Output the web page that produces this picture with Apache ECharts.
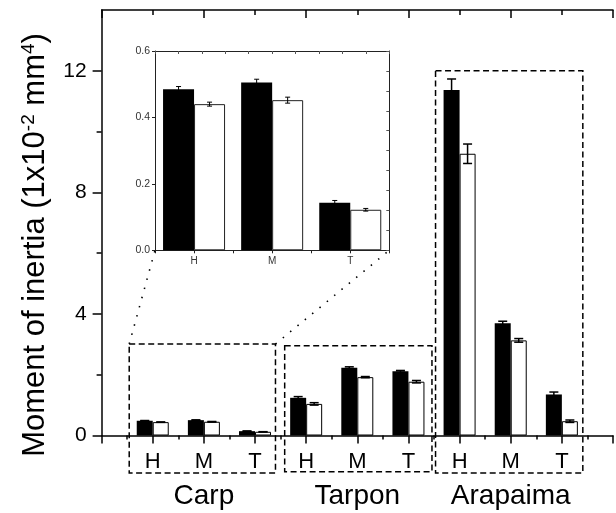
<!DOCTYPE html>
<html>
<head>
<meta charset="utf-8">
<script src="https://cdn.jsdelivr.net/npm/echarts@6/dist/echarts.min.js"></script>
<style>
html,body{margin:0;padding:0;background:#fff;}
#c{width:616px;height:513px;}
</style>
</head>
<body>
<div id="c"></div>
<script>
// ---------------- DATA ----------------
const groups = ['Carp', 'Tarpon', 'Arapaima'];
const sections = ['H', 'M', 'T'];
// order: Carp H,M,T | Tarpon H,M,T | Arapaima H,M,T   (units 1x10^-2 mm^4)
const blackVals = [0.485, 0.505, 0.143, 1.24, 2.23, 2.11, 11.37, 3.69, 1.35];
const blackErr  = [0.008, 0.010, 0.007, 0.04, 0.03, 0.03, 0.36, 0.07, 0.08];
const whiteVals = [0.440, 0.452, 0.122, 1.04, 1.92, 1.77, 9.27, 3.13, 0.47];
const whiteErr  = [0.006, 0.009, 0.004, 0.04, 0.02, 0.04, 0.32, 0.06, 0.04];
const yTicks = [0, 4, 8, 12];
const yMinorTicks = [2, 6, 10];
const insetYTicks = [0, 0.2, 0.4, 0.6];
// --------------------------------------

const FONT = 'Liberation Sans, Arial, sans-serif';
const nCat = groups.length * sections.length;
const mainPos = blackVals.map((v, i) => i + 1);
const groupCenters = groups.map((g, i) => i * sections.length + 2);

function errRender(offset, cap, lw) {
  return function (params, api) {
    const x = api.value(0), y = api.value(1), e = api.value(2);
    const top = api.coord([x, y + e]);
    const bot = api.coord([x, y - e]);
    const cx = top[0] + offset;
    const style = { stroke: '#000', lineWidth: lw };
    return {
      type: 'group',
      children: [
        { type: 'line', shape: { x1: cx, y1: top[1], x2: cx, y2: bot[1] }, style },
        { type: 'line', shape: { x1: cx - cap, y1: top[1], x2: cx + cap, y2: top[1] }, style },
        { type: 'line', shape: { x1: cx - cap, y1: bot[1], x2: cx + cap, y2: bot[1] }, style }
      ]
    };
  };
}

const chart = echarts.init(document.getElementById('c'), null, { renderer: 'canvas' });

const axisBlack = { show: true, onZero: false, lineStyle: { color: '#000', width: 1.5 } };
const insetLine = { show: true, onZero: false, lineStyle: { color: '#222', width: 1 } };

const option = {
  animation: false,
  backgroundColor: '#fff',
  grid: [
    { left: 101.6, top: 10, width: 524, height: 425.5 },
    { left: 155, top: 51, width: 234.3, height: 199.3 }
  ],
  xAxis: [
    { // 0 main bottom
      gridIndex: 0, type: 'value', position: 'bottom', min: 0, max: nCat + 1, interval: 1,
      axisLine: axisBlack,
      axisTick: { show: true, length: 8, lineStyle: { color: '#000', width: 1.5 } },
      minorTick: { show: true, splitNumber: 2, length: 4, lineStyle: { color: '#000', width: 1.5 } },
      splitLine: { show: false }, minorSplitLine: { show: false },
      axisLabel: {
        fontFamily: FONT, fontSize: 22, color: '#000', margin: 15,
        formatter: v => (Number.isInteger(v) && v >= 1 && v <= nCat) ? sections[(v - 1) % sections.length] : ''
      }
    },
    { // 1 main top
      gridIndex: 0, type: 'value', position: 'top', min: 0, max: nCat + 1, interval: 2,
      axisLine: axisBlack,
      axisTick: { show: true, inside: true, length: 8, lineStyle: { color: '#000', width: 1.5 } },
      minorTick: { show: true, splitNumber: 2, length: 5, lineStyle: { color: '#000', width: 1.5 } },
      splitLine: { show: false }, axisLabel: { show: false }
    },
    { // 2 group labels
      gridIndex: 0, type: 'value', position: 'bottom', min: 0, max: nCat + 1,
      axisLine: { show: false, onZero: false }, axisTick: { show: false }, splitLine: { show: false },
      axisLabel: {
        customValues: groupCenters,
        fontFamily: FONT, fontSize: 28, color: '#000', margin: 47,
        formatter: v => groups[Math.round((v - 2) / sections.length)]
      }
    },
    { // 3 inset bottom
      gridIndex: 1, type: 'value', position: 'bottom', min: 0, max: sections.length, interval: 0.5,
      axisLine: insetLine,
      axisTick: { show: true, length: 3, lineStyle: { color: '#222', width: 1 } },
      splitLine: { show: false },
      axisLabel: {
        fontFamily: FONT, fontSize: 10, color: '#333', margin: 6,
        formatter: v => { const i = v - 0.5; return (Number.isInteger(i) && i >= 0 && i < sections.length) ? sections[i] : ''; }
      }
    },
    { // 4 inset top
      gridIndex: 1, type: 'value', position: 'top', min: 0, max: 10, interval: 1,
      axisLine: insetLine,
      axisTick: { show: true, inside: true, length: 3, lineStyle: { color: '#555', width: 1 } },
      splitLine: { show: false }, axisLabel: { show: false }
    }
  ],
  yAxis: [
    { // 0 main left major
      gridIndex: 0, type: 'value', position: 'left', min: 0, max: 14, interval: 2,
      axisLine: axisBlack,
      axisTick: { show: true, customValues: yTicks, length: 9, lineStyle: { color: '#000', width: 1.5 } },
      splitLine: { show: false },
      axisLabel: { customValues: yTicks, fontFamily: FONT, fontSize: 21, color: '#000', margin: 15 }
    },
    { // 1 main left minor
      gridIndex: 0, type: 'value', position: 'left', min: 0, max: 14, interval: 2,
      axisLine: { show: false, onZero: false },
      axisTick: { show: true, customValues: yMinorTicks, length: 5, lineStyle: { color: '#000', width: 1.5 } },
      splitLine: { show: false }, axisLabel: { show: false }
    },
    { // 2 inset left
      gridIndex: 1, type: 'value', position: 'left', min: 0, max: 0.6, interval: 0.2,
      axisLine: insetLine,
      axisTick: { show: true, length: 3, lineStyle: { color: '#222', width: 1 } },
      splitLine: { show: false },
      axisLabel: { fontFamily: FONT, fontSize: 10.5, color: '#333', margin: 5, formatter: v => v.toFixed(1) }
    },
    { // 3 inset right
      gridIndex: 1, type: 'value', position: 'right', min: 0, max: 10, interval: 1,
      axisLine: insetLine,
      axisTick: { show: true, inside: true, length: 3, lineStyle: { color: '#555', width: 1 } },
      splitLine: { show: false }, axisLabel: { show: false }
    }
  ],
  series: [
    {
      type: 'bar', xAxisIndex: 0, yAxisIndex: 0, barWidth: 16, barGap: '0%',
      data: blackVals.map((v, i) => [mainPos[i], v]),
      itemStyle: { color: '#000' }, z: 2
    },
    {
      type: 'bar', xAxisIndex: 0, yAxisIndex: 0, barWidth: 16, barGap: '0%',
      data: whiteVals.map((v, i) => [mainPos[i], v]),
      itemStyle: { color: '#fff', borderColor: '#000', borderWidth: 1 }, z: 2
    },
    {
      type: 'custom', xAxisIndex: 0, yAxisIndex: 0, z: 5,
      renderItem: errRender(-8, 4.5, 1.5),
      data: blackVals.map((v, i) => [mainPos[i], v, blackErr[i]])
    },
    {
      type: 'custom', xAxisIndex: 0, yAxisIndex: 0, z: 5,
      renderItem: errRender(8, 4.5, 1.5),
      data: whiteVals.map((v, i) => [mainPos[i], v, whiteErr[i]])
    },
    {
      type: 'bar', xAxisIndex: 3, yAxisIndex: 2, barWidth: 31, barGap: '0%',
      data: blackVals.slice(0, 3).map((v, i) => [i + 0.5, v]),
      itemStyle: { color: '#000' }, z: 2
    },
    {
      type: 'bar', xAxisIndex: 3, yAxisIndex: 2, barWidth: 31, barGap: '0%',
      data: whiteVals.slice(0, 3).map((v, i) => [i + 0.5, v]),
      itemStyle: { color: '#fff', borderColor: '#222', borderWidth: 1 }, z: 2
    },
    {
      type: 'custom', xAxisIndex: 3, yAxisIndex: 2, z: 5,
      renderItem: errRender(-15.5, 2.5, 1),
      data: blackVals.slice(0, 3).map((v, i) => [i + 0.5, v, blackErr[i]])
    },
    {
      type: 'custom', xAxisIndex: 3, yAxisIndex: 2, z: 5,
      renderItem: errRender(15.5, 2.5, 1),
      data: whiteVals.slice(0, 3).map((v, i) => [i + 0.5, v, whiteErr[i]])
    }
  ]
};
chart.setOption(option);

// Annotation boxes (in main-axis data units) and connectors to the inset
const annotBoxes = [
  { x: [0.54, 3.40], y: [-1.23, 3.01] },
  { x: [3.58, 6.46], y: [-1.19, 2.95] },
  { x: [6.53, 9.41], y: [-1.23, 12.0] }
];
const mainF = { xAxisIndex: 0, yAxisIndex: 0 };
const insetF = { xAxisIndex: 3, yAxisIndex: 2 };
const gfx = [];
annotBoxes.forEach(b => {
  const p0 = chart.convertToPixel(mainF, [b.x[0], b.y[1]]);
  const p1 = chart.convertToPixel(mainF, [b.x[1], b.y[0]]);
  gfx.push({
    type: 'rect', z: 10, silent: true,
    shape: { x: p0[0], y: p0[1], width: p1[0] - p0[0], height: p1[1] - p0[1] },
    style: { fill: 'none', stroke: '#000', lineWidth: 1.5, lineDash: [6, 3.5] }
  });
});
const cb = annotBoxes[0];
const cTL = chart.convertToPixel(mainF, [cb.x[0], cb.y[1]]);
const cTR = chart.convertToPixel(mainF, [cb.x[1], cb.y[1]]);
const iBL = chart.convertToPixel(insetF, [0, 0]);
const iBR = chart.convertToPixel(insetF, [sections.length, 0]);
[[cTL, iBL], [cTR, iBR]].forEach(([a, b]) => {
  gfx.push({
    type: 'line', z: 10, silent: true,
    shape: { x1: a[0], y1: a[1], x2: b[0], y2: b[1] },
    style: { stroke: '#000', lineWidth: 1.6, lineDash: [1.5, 8] }
  });
});
gfx.push({
  type: 'text', z: 10, silent: true, x: 35, y: 245, rotation: Math.PI / 2,
  style: {
    text: 'Moment of inertia (1x10{sup|-2} mm{sup|4})',
    fontFamily: FONT, fontSize: 31, fill: '#000', align: 'center', verticalAlign: 'middle',
    rich: { sup: { fontFamily: FONT, fontSize: 19, fill: '#000', verticalAlign: 'top', lineHeight: 19, padding: [0, 0, 4, 0] } }
  }
});
chart.setOption({ graphic: gfx });
</script>
</body>
</html>
